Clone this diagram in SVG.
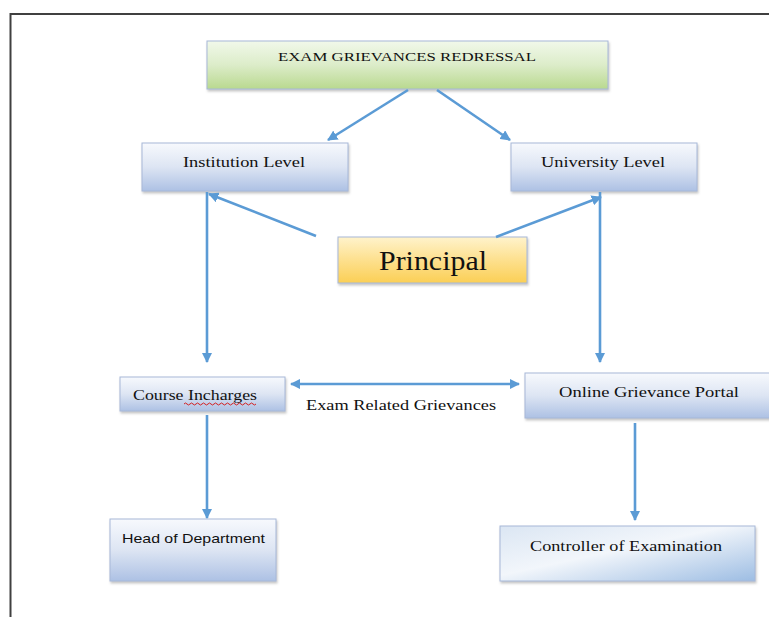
<svg xmlns="http://www.w3.org/2000/svg" width="769" height="617" viewBox="0 0 769 617">
<defs>
<linearGradient id="gBlue" x1="0" y1="0" x2="0" y2="1">
<stop offset="0" stop-color="#f7f9fd"/><stop offset="0.5" stop-color="#dde5f3"/><stop offset="1" stop-color="#adc1e4"/>
</linearGradient>
<linearGradient id="gGreen" x1="0" y1="0" x2="0" y2="1">
<stop offset="0" stop-color="#f1f8ea"/><stop offset="0.5" stop-color="#dcecc9"/><stop offset="1" stop-color="#b9d98f"/>
</linearGradient>
<linearGradient id="gYellow" x1="0" y1="0" x2="0" y2="1">
<stop offset="0" stop-color="#fff3cc"/><stop offset="0.5" stop-color="#fde08e"/><stop offset="1" stop-color="#fbcf55"/>
</linearGradient>
<linearGradient id="gCtrl" x1="0" y1="0" x2="1" y2="1">
<stop offset="0" stop-color="#dbe6f3"/><stop offset="0.45" stop-color="#f2f6fb"/><stop offset="1" stop-color="#9dbde3"/>
</linearGradient>
<marker id="ah" viewBox="0 0 10 10" refX="9" refY="5" markerWidth="4" markerHeight="4" orient="auto-start-reverse" markerUnits="strokeWidth">
<path d="M0,0 L10,5 L0,10 z" fill="#5b9bd5"/>
</marker>
<filter id="sh" x="-5%" y="-10%" width="115%" height="130%">
<feDropShadow dx="1" dy="2" stdDeviation="1" flood-color="#808080" flood-opacity="0.45"/>
</filter>
</defs>
<style>
.box{stroke:#a7b8d8;stroke-width:1;filter:url(#sh)}
.serif{fill:#111111}
.sans{fill:#111111}
.conn{stroke:#5b9bd5;stroke-width:2.6;fill:none;marker-end:url(#ah)}
</style>
<rect width="769" height="617" fill="#ffffff"/>
<g id="frame">
<path d="M10.5,617 V14 H769" fill="none" stroke="#404040" stroke-width="2"/>
</g>
<g id="n-title">
<rect class="box" x="207" y="41" width="401" height="48" fill="url(#gGreen)" stroke="#b6cf98"/>
<text class="serif" font-family="Liberation Serif, DejaVu Serif, serif" x="407" y="61" font-size="13" text-anchor="middle" textLength="258" lengthAdjust="spacingAndGlyphs">EXAM GRIEVANCES REDRESSAL</text>
</g>
<g id="n-institution">
<rect class="box" x="142" y="143" width="206" height="48" fill="url(#gBlue)"/>
<text class="serif" font-family="Liberation Serif, DejaVu Serif, serif" x="244" y="167" font-size="15" text-anchor="middle" textLength="122" lengthAdjust="spacingAndGlyphs">Institution Level</text>
</g>
<g id="n-university">
<rect class="box" x="511" y="143" width="186" height="48" fill="url(#gBlue)"/>
<text class="serif" font-family="Liberation Serif, DejaVu Serif, serif" x="603" y="167" font-size="15" text-anchor="middle" textLength="124" lengthAdjust="spacingAndGlyphs">University Level</text>
</g>
<g id="n-principal">
<rect class="box" x="338" y="237" width="189" height="46" fill="url(#gYellow)" stroke="#f2d58a"/>
<text class="serif" font-family="Liberation Serif, DejaVu Serif, serif" x="433" y="270" font-size="27" text-anchor="middle" textLength="108" lengthAdjust="spacingAndGlyphs">Principal</text>
</g>
<g id="n-course">
<rect class="box" x="120" y="377" width="165" height="34" fill="url(#gBlue)"/>
<text class="serif" font-family="Liberation Serif, DejaVu Serif, serif" x="133" y="400" font-size="14" textLength="124" lengthAdjust="spacingAndGlyphs">Course Incharges</text>
<path d="M184,404 q1.5,-2 3,0 t3,0 t3,0 t3,0 t3,0 t3,0 t3,0 t3,0 t3,0 t3,0 t3,0 t3,0 t3,0 t3,0 t3,0 t3,0 t3,0 t3,0 t3,0 t3,0 t3,0 t3,0 t3,0 t3,0" fill="none" stroke="#d42020" stroke-width="1"/>
</g>
<g id="n-portal">
<rect class="box" x="525" y="373" width="250" height="45" fill="url(#gBlue)"/>
<text class="serif" font-family="Liberation Serif, DejaVu Serif, serif" x="559" y="397" font-size="15" textLength="180" lengthAdjust="spacingAndGlyphs">Online Grievance Portal</text>
</g>
<g id="n-hod">
<rect class="box" x="110" y="519" width="166" height="62" fill="url(#gBlue)"/>
<text class="sans" font-family="Liberation Sans, Open Sans, sans-serif" x="122" y="543" font-size="13" textLength="143" lengthAdjust="spacingAndGlyphs">Head of Department</text>
</g>
<g id="n-coe">
<rect class="box" x="500" y="526" width="255" height="55" fill="url(#gCtrl)"/>
<text class="serif" font-family="Liberation Serif, DejaVu Serif, serif" x="530" y="551" font-size="15" textLength="192" lengthAdjust="spacingAndGlyphs">Controller of Examination</text>
</g>
<g id="connectors">
<line class="conn" x1="408" y1="90" x2="328" y2="140"/>
<line class="conn" x1="437" y1="90" x2="510" y2="140"/>
<line class="conn" x1="316" y1="236" x2="209" y2="194"/>
<line class="conn" x1="496" y1="237" x2="601" y2="197"/>
<line class="conn" x1="207" y1="192" x2="207" y2="362"/>
<line class="conn" x1="600" y1="192" x2="600" y2="362"/>
<line class="conn" x1="291" y1="384" x2="519" y2="384" marker-start="url(#ah)"/>
<line class="conn" x1="207" y1="415" x2="207" y2="518"/>
<line class="conn" x1="635" y1="423" x2="635" y2="520"/>
</g>
<text class="serif" font-family="Liberation Serif, DejaVu Serif, serif" x="306" y="410" font-size="15" textLength="190" lengthAdjust="spacingAndGlyphs">Exam Related Grievances</text>
</svg>
